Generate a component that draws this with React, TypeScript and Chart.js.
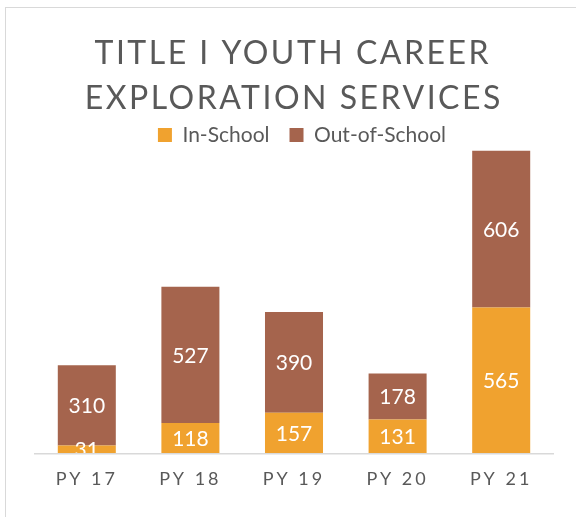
import React, { useEffect, useRef } from "react";
import { Chart, registerables } from "chart.js";

Chart.register(...registerables);

const categories = ["PY 17", "PY 18", "PY 19", "PY 20", "PY 21"];
const inSchool = [31, 118, 157, 131, 565];
const outOfSchool = [310, 527, 390, 178, 606];
const seriesNames = ["In-School", "Out-of-School"];
const titleLines = ["TITLE I YOUTH CAREER", "EXPLORATION SERVICES"];

const FONT = "Lato, 'Liberation Sans', sans-serif";
const GRAY = "#595959";
const ORANGE = "#F0A22F";
const BROWN = "#A5644D";
const LEGEND_SHIFT = 8;

const overlay = {
  id: "overlay",
  afterLayout(chart: any) {
    const lg = chart.legend;
    if (lg && !lg._shifted) {
      lg.left += LEGEND_SHIFT;
      lg.right += LEGEND_SHIFT;
      lg._shifted = true;
    }
  },
  afterDatasetsDraw(chart: any) {
    const ctx = chart.ctx;
    const a = chart.chartArea;
    ctx.save();
    ctx.beginPath();
    ctx.rect(a.left, a.top - 60, a.right - a.left, a.bottom - a.top + 60);
    ctx.clip();
    ctx.font = `21px ${FONT}`;
    ctx.fillStyle = "#FFFFFF";
    ctx.textAlign = "center";
    ctx.textBaseline = "middle";
    chart.data.datasets.forEach((ds: any, di: number) => {
      const meta = chart.getDatasetMeta(di);
      meta.data.forEach((bar: any, i: number) => {
        const p = bar.getProps(["x", "y", "base"], true);
        ctx.fillText(String(ds.data[i]), p.x, (p.y + p.base) / 2 + 1);
      });
    });
    ctx.restore();
    ctx.letterSpacing = "3px";
  },
  afterDraw(chart: any) {
    const ctx = chart.ctx;
    ctx.letterSpacing = "0px";
    ctx.save();
    ctx.letterSpacing = "2.5px";
    ctx.font = `32px ${FONT}`;
    ctx.fillStyle = GRAY;
    ctx.textAlign = "center";
    ctx.textBaseline = "alphabetic";
    ctx.fillText(titleLines[0], 291.5 + 1.25, 63.5);
    ctx.fillText(titleLines[1], 292.5 + 1.25, 109);
    ctx.restore();
  },
};

export default function App() {
  const ref = useRef<HTMLCanvasElement | null>(null);
  useEffect(() => {
    if (!ref.current) return;
    const chart = new Chart(ref.current, {
      type: "bar",
      data: {
        labels: categories,
        datasets: [
          { label: seriesNames[0], data: inSchool, backgroundColor: ORANGE, clip: false },
          { label: seriesNames[1], data: outOfSchool, backgroundColor: BROWN, clip: false },
        ],
      },
      options: {
        responsive: false,
        animation: false,
        layout: { padding: { top: 104.5, left: 35, right: 23, bottom: 20 } },
        datasets: { bar: { categoryPercentage: 0.56, barPercentage: 1 } },
        plugins: {
          title: { display: false },
          tooltip: { enabled: false },
          legend: {
            display: true,
            position: "top",
            labels: {
              font: { family: FONT, size: 21 },
              color: GRAY,
              boxWidth: 14,
              boxHeight: 14,
              padding: 20,
            },
          },
        },
        scales: {
          x: {
            stacked: true,
            z: 1,
            grid: { display: false },
            border: { color: "#D9D9D9", width: 1.5, z: 1 },
            ticks: { font: { family: FONT, size: 18 }, color: GRAY, padding: 7, z: 1 },
          },
          y: { stacked: true, display: false, min: 0, max: 1153 },
        },
      },
      plugins: [overlay],
    } as any);
    return () => chart.destroy();
  }, []);
  return (
    <div style={{ position: "fixed", left: 0, top: 0, width: 576, height: 517, overflow: "hidden", background: "#fff" }}>
      <div style={{ position: "absolute", left: 5, top: 7, width: 640, height: 600, border: "1.5px solid #D9D9D9", boxSizing: "border-box" }} />
      <canvas ref={ref} width={576} height={517} style={{ position: "absolute", left: 0, top: 0, width: 576, height: 517 }} />
    </div>
  );
}
